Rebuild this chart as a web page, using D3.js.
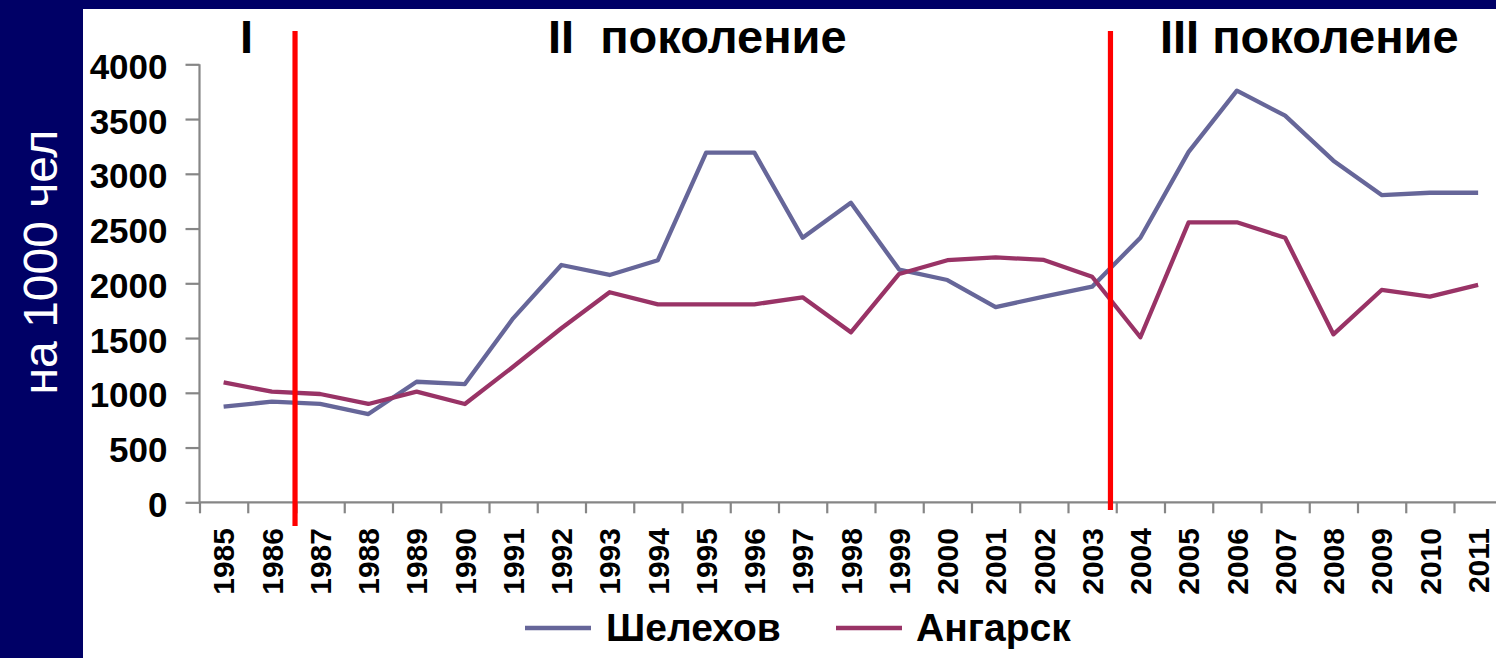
<!DOCTYPE html>
<html>
<head>
<meta charset="utf-8">
<script src="https://cdn.jsdelivr.net/npm/d3@7"></script>
<style>
  html, body { margin: 0; padding: 0; background: #000066; }
  svg { display: block; }
  text { font-family: "Liberation Sans", Arial, sans-serif; }
</style>
</head>
<body>
<svg id="chart" width="1496" height="658"></svg>
<script>
const years = [1985,1986,1987,1988,1989,1990,1991,1992,1993,1994,1995,1996,1997,1998,1999,2000,2001,2002,2003,2004,2005,2006,2007,2008,2009,2010,2011];
const shelekhov = [873,919,898,806,1101,1080,1680,2167,2076,2211,3193,3193,2416,2736,2125,2030,1783,1878,1969,2416,3200,3759,3531,3120,2806,2827,2827];
const angarsk   = [1096,1010,989,898,1010,898,1238,1589,1918,1808,1808,1808,1872,1552,2085,2211,2237,2213,2060,1507,2557,2557,2416,1534,1939,1878,1985];
const yTicks = [0,500,1000,1500,2000,2500,3000,3500,4000];
const seriesNames = ["Шелехов", "Ангарск"];
const seriesColors = ["#666699", "#993366"];
const periodLabels = ["I", "II  поколение", "III поколение"];
const dividerIdx = [1.98, 18.88];   // positions (in category units) of the red dividers
const yTitle = "на 1000 чел";

const svg = d3.select("#chart");
const W = 1496, H = 658;

// white panel
svg.append("rect").attr("x", 83).attr("y", 9).attr("width", W - 83).attr("height", H - 9).attr("fill", "#ffffff");

const x0 = 199.5, bw = 48.25;
const xLin = d3.scaleLinear().domain([0, years.length]).range([x0, x0 + bw * years.length]);
const xBand = d3.scaleBand().domain(years).range([x0, x0 + bw * years.length]).padding(0);
const y = d3.scaleLinear().domain([0, 4000]).range([502.3, 64.3]);
const cx = d => xBand(d) + xBand.bandwidth() / 2;

const axisColor = "#868686";

// Y axis
const gy = svg.append("g").attr("transform", `translate(${x0},0)`)
  .call(d3.axisLeft(y).tickValues(yTicks).tickSize(14).tickPadding(18).tickFormat(d3.format("d")));
gy.select(".domain").attr("stroke", axisColor).attr("stroke-width", 2.2).attr("d", `M0,${y(4000)}V${y(0)}`);
gy.selectAll(".tick line").attr("stroke", axisColor).attr("stroke-width", 2.2);
gy.selectAll(".tick text").attr("fill", "#000").attr("font-size", 35).attr("font-weight", "bold")
  .attr("font-family", "'Liberation Sans', Arial, sans-serif").attr("dy", "0.4em");

// X axis (ticks at category boundaries)
const gx = svg.append("g").attr("transform", `translate(0,${y(0)})`)
  .call(d3.axisBottom(xLin).tickValues(d3.range(years.length + 1)).tickSize(11).tickFormat(""));
gx.select(".domain").attr("stroke", axisColor).attr("stroke-width", 2.2).attr("d", `M${x0},0H${W}`);
gx.selectAll(".tick line").attr("stroke", axisColor).attr("stroke-width", 2.2);

// X labels
svg.append("g").selectAll("text").data(years).join("text")
  .attr("transform", d => `translate(${cx(d)},528) rotate(-90)`)
  .attr("dy", "0.36em")
  .attr("text-anchor", "end")
  .attr("font-size", 30).attr("font-weight", "bold").attr("fill", "#000")
  .text(d => d);

// Lines
const line = d3.line().x((d, i) => cx(years[i])).y(d => y(d));
[shelekhov, angarsk].forEach((s, k) => {
  svg.append("path").datum(s).attr("d", line).attr("fill", "none")
    .attr("stroke", seriesColors[k]).attr("stroke-width", 4.3).attr("stroke-linejoin", "round");
});

// Red dividers
svg.append("line").attr("x1", xLin(dividerIdx[0])).attr("x2", xLin(dividerIdx[0]))
  .attr("y1", 31).attr("y2", 526).attr("stroke", "#ff0000").attr("stroke-width", 5.2);
svg.append("line").attr("x1", xLin(dividerIdx[1])).attr("x2", xLin(dividerIdx[1]))
  .attr("y1", 31).attr("y2", 510).attr("stroke", "#ff0000").attr("stroke-width", 5.2);

// Period labels
const periodX = [240, 548, 1160];
periodLabels.forEach((t, i) => {
  svg.append("text").attr("x", periodX[i]).attr("y", 53)
    .attr("font-size", 47).attr("font-weight", "bold").attr("fill", "#000")
    .style("white-space", "pre").attr("xml:space", "preserve")
    .text(t);
});

// Legend
const legend = [{x1: 525, x2: 591, tx: 606}, {x1: 836, x2: 902, tx: 916}];
legend.forEach((l, k) => {
  svg.append("line").attr("x1", l.x1).attr("x2", l.x2).attr("y1", 628).attr("y2", 628)
    .attr("stroke", seriesColors[k]).attr("stroke-width", 4.3);
  svg.append("text").attr("x", l.tx).attr("y", 641)
    .attr("font-size", 39).attr("font-weight", "bold").attr("fill", "#000")
    .text(seriesNames[k]);
});

// Y title (white on navy)
svg.append("text").attr("transform", "translate(57,262) rotate(-90)")
  .attr("text-anchor", "middle").attr("font-size", 48).attr("fill", "#ffffff")
  .text(yTitle);
</script>
</body>
</html>
